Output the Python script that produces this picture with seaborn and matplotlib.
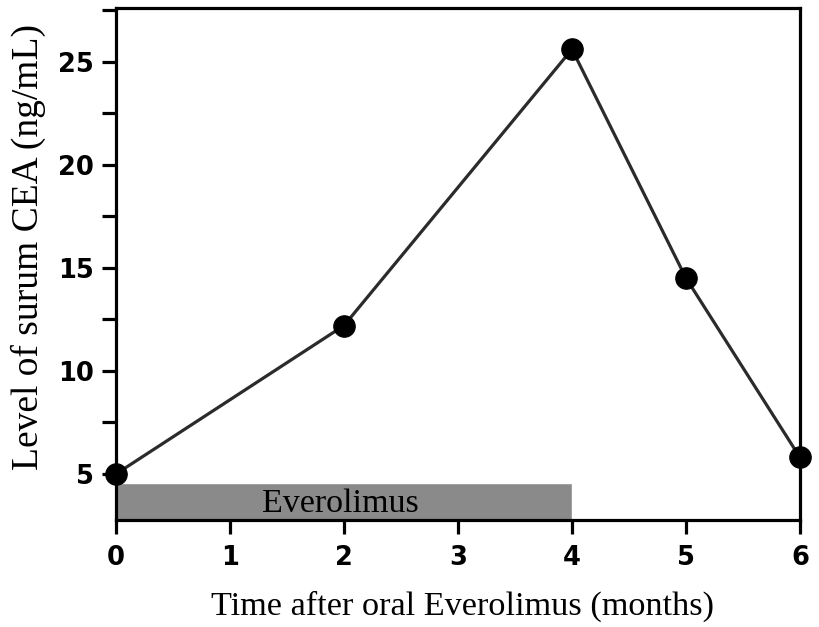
import matplotlib
matplotlib.use("Agg")
import matplotlib.pyplot as plt
import seaborn as sns
import pandas as pd
from matplotlib.ticker import MultipleLocator

sns.set_theme(style="ticks")

# ── Données ──
mois = [0, 2, 4, 5, 6]
cea = [5.0, 12.2, 25.6, 14.5, 5.8]
traitement_debut = 0
traitement_fin = 4
traitement_label = "Everolimus"

df = pd.DataFrame({"mois": mois, "cea": cea})

fig = plt.figure(figsize=(8.19, 6.27), dpi=100)
ax = fig.add_axes([0.1416, 0.1707, 0.8352, 0.8165])

# Barre grise : période de traitement
ax.barh(y=2.77, width=traitement_fin - traitement_debut, left=traitement_debut,
        height=1.78, align="edge", color="#8a8a8a", zorder=1)
ax.text(1.97, 3.55, traitement_label,
        ha="center", va="center", fontsize=24.5, family="Liberation Serif",
        color="black", zorder=2)

sns.lineplot(data=df, x="mois", y="cea", ax=ax, color="#2b2b2b", linewidth=2.3,
             marker="o", markersize=15.5, markerfacecolor="black",
             markeredgecolor="black", zorder=3, clip_on=False)

ax.set_xlim(0, 6)
ax.set_ylim(2.77, 27.6)
ax.set_xticks(range(0, 7))
ax.set_yticks([5, 10, 15, 20, 25])
ax.yaxis.set_minor_locator(MultipleLocator(2.5))

for s in ax.spines.values():
    s.set_linewidth(2.3)
    s.set_color("black")
ax.tick_params(axis="both", which="major", length=10, width=2.3, labelsize=18.5,
               pad=6, color="black", labelcolor="black")
ax.tick_params(axis="x", which="major", pad=8)
ax.tick_params(axis="y", which="minor", length=10, width=2.3, color="black")
for lab in ax.get_xticklabels() + ax.get_yticklabels():
    lab.set_fontweight("bold")

ax.set_xlabel("Time after oral Everolimus (months)", fontsize=24.7,
              family="Liberation Serif", color="black")
ax.set_ylabel("Level of surum CEA (ng/mL)", fontsize=27,
              family="Liberation Serif", color="black")
ax.xaxis.set_label_coords(0.506, -0.138)
ax.yaxis.label.set_va("center")
ax.yaxis.set_label_coords(-0.1287, 0.533)

fig.savefig("out.png", dpi=100)
plt.close(fig)
